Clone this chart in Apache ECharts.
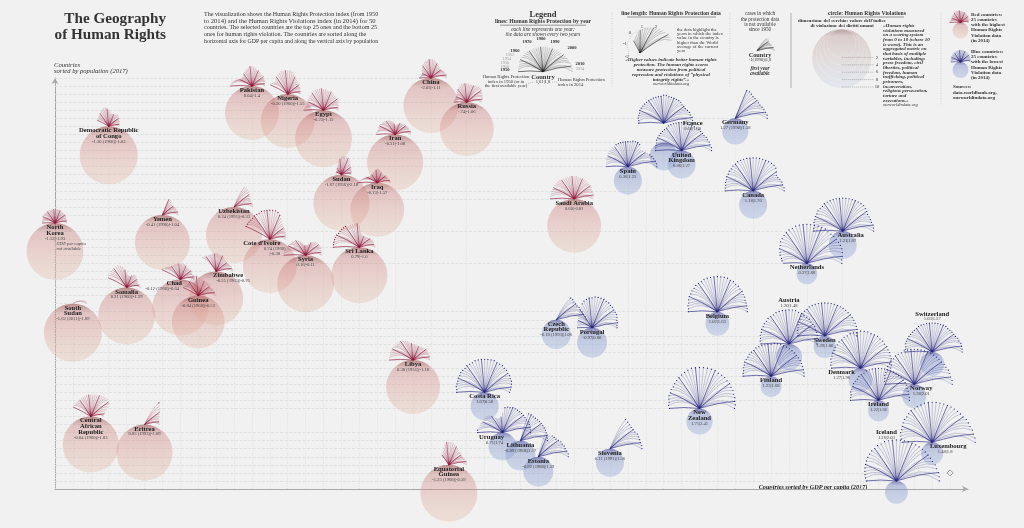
<!DOCTYPE html>
<html>
<head>
<meta charset="utf-8">
<script src="https://cdn.jsdelivr.net/npm/echarts@6/dist/echarts.min.js"></script>
<style>
html,body{margin:0;padding:0;background:#f0f1f0;}
#main{width:1024px;height:528px;}
</style>
</head>
<body>
<div id="main"></div>
<script>
// countries in GDP order, 0 = no GDP data
var countries = ['North\nKorea','South\nSudan','Central\nAfrican\nRepublic','Democratic Republic\nof Congo','Somalia','Eritrea','Yemen','Chad','Guinea','Zimbabwe','Uzbekistan','Pakistan','Cote d\'Ivoire','Nigeria','Syria','Egypt','Sudan','Sri Lanka','Iraq','Iran','Libya','China','Equatorial\nGuinea','Russia','Costa Rica','Uruguay','Lithuania','Estonia','Czech\nRepublic','Saudi Arabia','Portugal','Slovenia','Spain','France','United\nKingdom','New\nZealand','Belgium','Germany','Canada','Finland','Austria','Netherlands','Sweden','Australia','Denmark','Ireland','Iceland','Norway','Switzerland','Luxembourg'];
var gdpRank = [0,1,2,3,4,5,6,7,8,9,10,11,12,13,14,15,16,17,18,19,20,21,22,23,24,25,26,27,28,29,30,31,32,34,35,36,37,38,39,40,41,42,43,44,45,46,47,48,49,50];
var popRank = [33,23,9,45,25,8,34,26,24,27,35,50,31,49,29,47,39,30,38,44,16,51,3,48,12,7,6,4,21,36,20,5,40,43,42,10,22,46,37,14,18,28,19,32,15,11,1,13,17,2];
var violation = [9.7,10,9.5,10,9.7,9.5,9.2,9.5,8.6,8.9,9.5,8.9,8.9,8.9,9.7,9.7,9.5,9.5,8.9,9.5,8.9,9.2,9.7,8.9,1.9,1.9,2.4,2.4,2.2,8.9,2.4,1.9,1.9,1.9,1.9,1.4,0.8,1.4,1.9,0,1.4,0,0.3,1.9,0.8,0,0.5,0.8,0.8,0.3];
var scores = ['-1.53|-1.93','-1.62 (2011)|-1.89','-0.04 (1960)|-1.83','-1.30 (1960)|-1.03','0.31 (1960)|-1.29','0.85 (1993)|-1.09','-0.41 (1990)|-1.04','-0.12 (1960)|-0.64','-0.84 (1960)|-0.53','-0.55 (1965)|-0.76','0.24 (1991)|-0.33','0.04|-1.4','0.74 (1960)\n|-0.38','-0.20 (1960)|-1.55','0.16|-0.11','-0.25|-1.12','-1.67 (1956)|-2.18','0.79|-1.0','-0.13|-1.57','-0.31|-1.08','0.38 (1951)|-1.18','-2.03|-1.11','-1.25 (1968)|-0.59','-.74|-1.06','1.07|0.50','0.71|1.74','-0.89 (1988)|1.17','-0.92 (1988)|1.59','-0.18 (1993)|1.06','0.60|-0.81','-0.97|0.80','0.11 (1991)|1.56','0.36|1.25','0.60|1.30','0.86|1.27','1.71|2.41','1.02|1.63','1.27 (1990)|1.58','1.18|1.70','1.23|1.68','1.20|1.48','0.37|1.68','1.29|1.80','1.21|1.87','1.27|1.96','1.22|1.66','1.26|2.03','1.38|2.01','1.03|1.57','1.48|1.8'];

// protection index, one value every two years, last one is 2014
var northKorea = [-1.7,-1.7,-1.7,-1.7,-1.7,-1.6,-1.6,-1.6,-1.6,-1.6,-1.6,-1.6,-1.6,-1.6,-1.6,-1.6,-1.6,-1.6,-1.6,-1.6,-1.6,-1.7,-1.7,-1.7,-1.7,-1.7,-1.7,-1.7,-1.8,-1.8,-1.8,-1.8,-1.8];
var southSudan = [-1.6,-1.6];
var car = [-1.0,-1.0,-1.0,-1.0,-1.0,-1.0,-0.9,-0.9,-0.9,-0.8,-0.8,-0.8,-0.8,-0.8,-0.8,-0.7,-0.7,-0.6,-0.6,-0.6,-0.7,-0.7,-1.0,-1.3,-1.5,-1.6,-1.7,-1.7];
var drCongo = [-1.7,-1.7,-1.6,-1.6,-1.5,-1.4,-1.3,-1.2,-1.1,-1.1,-1.2,-1.3,-1.5,-1.7,-1.7,-1.7,-1.7,-1.6,-1.5,-1.6,-1.7,-1.7,-1.8,-1.8,-1.9,-1.9,-1.9,-2.0];
var somalia = [-0.9,-0.8,-0.8,-0.7,-0.7,-0.7,-0.6,-0.6,-0.7,-0.9,-1.2,-1.5,-1.7,-1.8,-1.8,-1.7,-1.6,-1.5,-1.5,-1.6,-1.7,-1.7,-1.7,-1.8,-1.8,-1.7,-1.7,-1.6];
var eritrea = [-0.4,-0.6,-0.8,-1.0,-1.2,-1.3,-1.4,-1.5,-1.5,-1.5,-1.5];
var yemen = [-1.3,-1.3,-1.4,-1.5,-1.6,-1.6,-1.6,-1.5,-1.5,-1.5,-1.4,-1.4,-1.4];
var chad = [-0.9,-1.0,-1.1,-1.2,-1.3,-1.4,-1.4,-1.4,-1.4,-1.4,-1.4,-1.4,-1.4,-1.4,-1.4,-1.5,-1.6,-1.6,-1.6,-1.6,-1.6,-1.6,-1.7,-1.7,-1.6,-1.6,-1.6,-1.6];
var guinea = [-1.3,-1.3,-1.4,-1.4,-1.4,-1.3,-1.2,-1.1,-1.0,-1.0,-1.0,-1.1,-1.2,-1.3,-1.3,-1.4,-1.4,-1.4,-1.4,-1.4,-1.5,-1.5,-1.5,-1.4,-1.4,-1.3,-1.3,-1.2];
var zimbabwe = [-1.0,-1.1,-1.2,-1.2,-1.2,-1.2,-1.2,-1.2,-1.2,-1.2,-1.3,-1.3,-1.3,-1.4,-1.5,-1.6,-1.6,-1.6,-1.6,-1.5,-1.5,-1.4,-1.4,-1.3,-1.3];
var uzbekistan = [-0.7,-0.7,-0.8,-0.9,-1.0,-1.1,-1.2,-1.2,-1.2,-1.2,-1.1,-1.1];
var pakistan = [-0.8,-0.9,-1.0,-1.2,-1.4,-1.6,-1.7,-1.7,-1.7,-1.6,-1.5,-1.4,-1.3,-1.2,-1.1,-1.0,-1.0,-1.1,-1.2,-1.3,-1.3,-1.4,-1.4,-1.5,-1.5,-1.5,-1.6,-1.6,-1.6,-1.6,-1.7,-1.7,-1.7];
var coteDivoire = [-0.3,-0.3,-0.3,-0.3,-0.3,-0.2,-0.2,-0.2,-0.1,-0.1,-0.1,-0.1,-0.1,-0.1,-0.2,-0.4,-0.6,-0.8,-1.0,-1.1,-1.2,-1.2,-1.3,-1.3,-1.3,-1.4,-1.4,-1.4];
var nigeria = [-1.0,-1.1,-1.2,-1.2,-1.1,-0.9,-0.8,-0.7,-0.6,-0.6,-0.6,-0.6,-0.6,-0.7,-0.9,-1.1,-1.2,-1.3,-1.4,-1.5,-1.5,-1.6,-1.6,-1.6,-1.7,-1.7,-1.7,-1.7];
var syria = [-0.8,-0.8,-0.8,-0.9,-0.9,-1.0,-1.0,-1.1,-1.1,-1.2,-1.2,-1.3,-1.5,-1.7,-1.9,-2.0,-2.0,-2.0,-1.9,-1.8,-1.6,-1.5,-1.4,-1.3,-1.3,-1.3,-1.3,-1.3,-1.3,-1.4,-1.4,-1.4,-1.4];
var egypt = [-1.0,-1.1,-1.2,-1.2,-1.2,-1.2,-1.1,-1.1,-1.0,-1.0,-0.9,-0.9,-0.8,-0.8,-0.8,-0.8,-0.9,-0.9,-1.0,-1.0,-1.0,-1.1,-1.1,-1.2,-1.2,-1.2,-1.3,-1.3,-1.4,-1.4,-1.5,-1.5,-1.5];
var sudan = [-2.4,-2.4,-2.4,-2.4,-2.4,-2.3,-2.3,-2.2,-2.1,-2.0,-1.8,-1.6,-1.4,-1.2,-1.1,-1.1,-1.1,-1.2,-1.3,-1.4,-1.6,-1.7,-1.8,-1.8,-1.9,-1.9,-1.9,-2.0,-2.0,-2.0];
var sriLanka = [-0.4,-0.4,-0.4,-0.4,-0.4,-0.4,-0.5,-0.5,-0.5,-0.5,-0.5,-0.6,-0.6,-0.6,-0.6,-0.6,-0.8,-1.3,-1.7,-1.8,-1.8,-1.8,-1.8,-1.7,-1.7,-1.6,-1.6,-1.5,-1.5,-1.5,-1.5,-1.4,-1.4];
var iraq = [-1.0,-1.2,-1.4,-1.6,-1.7,-1.8,-1.9,-2.0,-2.0,-2.0,-2.0,-2.0,-1.9,-1.9,-1.8,-1.7,-1.6,-1.6,-1.7,-1.8,-1.9,-2.0,-2.0,-2.0,-2.0,-1.9,-1.9,-1.9,-1.8,-1.8,-1.7,-1.7,-1.6];
var iran = [-1.1,-1.1,-1.2,-1.2,-1.2,-1.2,-1.2,-1.3,-1.3,-1.3,-1.4,-1.4,-1.5,-1.6,-1.7,-1.9,-2.1,-2.1,-2.0,-1.9,-1.8,-1.7,-1.7,-1.7,-1.6,-1.6,-1.6,-1.5,-1.5,-1.5,-1.4,-1.4,-1.4];
var libya = [-0.6,-0.6,-0.6,-0.6,-0.6,-0.6,-0.6,-0.7,-0.7,-0.7,-0.7,-0.8,-0.9,-1.0,-1.2,-1.3,-1.4,-1.4,-1.5,-1.5,-1.5,-1.5,-1.4,-1.4,-1.4,-1.3,-1.3,-1.3,-1.3,-1.3,-1.3,-1.3,-1.3];
var china = [-1.8,-1.9,-2.0,-2.0,-2.0,-2.0,-1.9,-1.8,-1.7,-1.6,-1.5,-1.4,-1.3,-1.2,-1.2,-1.1,-1.1,-1.1,-1.2,-1.3,-1.4,-1.5,-1.6,-1.6,-1.7,-1.7,-1.6,-1.6,-1.5,-1.5,-1.4,-1.4,-1.4];
var eqGuinea = [-1.8,-1.8,-1.7,-1.5,-1.2,-0.9,-0.7,-0.7,-0.7,-0.8,-0.9,-1.0,-1.1,-1.2,-1.3,-1.3,-1.4,-1.4,-1.4,-1.3,-1.3,-1.2,-1.2,-1.2];
var russia = [-1.7,-1.7,-1.8,-1.8,-1.8,-1.8,-1.7,-1.7,-1.6,-1.5,-1.4,-1.3,-1.2,-1.1,-1.1,-1.1,-1.1,-1.2,-1.2,-1.2,-1.2,-1.1,-1.1,-1.0,-1.0,-1.1,-1.2,-1.2,-1.3,-1.3,-1.4,-1.5,-1.5];
var costaRica = [-0.2,-0.2,-0.1,-0.1,-0.1,0,0,0.1,0.1,0.1,0.2,0.2,0.2,0.3,0.3,0.3,0.3,0.3,0.3,0.3,0.2,0.2,0.2,0.1,0.1,0,0,-0.1,-0.1,-0.2,-0.3,-0.4,-0.5];
var uruguay = [-0.5,-0.5,-0.6,-0.6,-0.6,-0.7,-0.7,-0.7,-0.7,-0.8,-1.0,-1.2,-1.4,-1.5,-1.5,-1.4,-1.0,-0.5,-0.4,-0.4,-0.3,-0.3,-0.3,-0.3,-0.3,-0.3,-0.3,-0.3,-0.2,-0.2,-0.2,-0.2,-0.2];
var lithuania = [-0.2,-0.2,-0.3,-0.3,-0.3,-0.3,-0.3,-0.3,-0.3,-0.3,-0.3,-0.3,-0.3,-0.3];
var estonia = [-0.6,-0.6,-0.6,-0.5,-0.5,-0.5,-0.4,-0.3,-0.3,-0.2,-0.2,-0.1,0,0];
var czech = [-0.4,-0.4,-0.5,-0.5,-0.5,-0.4,-0.4,-0.3,-0.2,-0.1,0];
var saudi = [-0.6,-0.6,-0.6,-0.6,-0.6,-0.6,-0.6,-0.6,-0.6,-0.6,-0.7,-0.7,-0.7,-0.7,-0.7,-0.7,-0.7,-0.7,-0.8,-0.8,-0.8,-0.8,-0.8,-0.9,-0.9,-0.9,-0.9,-1.0,-1.0,-1.0,-1.0,-1.1,-1.1];
var portugal = [-1.5,-1.5,-1.5,-1.4,-1.4,-1.4,-1.3,-1.2,-1.1,-1.0,-0.8,-0.6,-0.4,-0.2,-0.1,0,0,0.1,0.1,0.1,0.1,0,0,-0.1,-0.1,-0.2,-0.2,-0.2,-0.3,-0.4,-0.4,-0.5,-0.5];
var slovenia = [0.3,0.2,0.1,0,0,0,0.1,0.1,0.1,0.1,0.2,0.2];
var spain = [-0.8,-0.8,-0.8,-0.7,-0.7,-0.7,-0.6,-0.6,-0.6,-0.6,-0.6,-0.5,-0.5,-0.5,-0.5,-0.5,-0.5,-0.5,-0.4,-0.4,-0.4,-0.5,-0.7,-0.9,-0.8,-0.7,-0.6,-0.5,-0.4,-0.3,-0.2,-0.1,-0.1];
var france = [-0.5,-0.5,-0.4,-0.4,-0.4,-0.3,-0.3,-0.3,-0.3,-0.3,-0.3,-0.3,-0.3,-0.3,-0.3,-0.3,-0.2,-0.2,-0.3,-0.3,-0.3,-0.3,-0.3,-0.3,-0.4,-0.4,-0.4,-0.3,-0.2,-0.2,-0.1,-0.1,-0.1];
var uk = [-0.4,-0.4,-0.4,-0.4,-0.3,-0.3,-0.3,-0.3,-0.3,-0.3,-0.3,-0.2,-0.2,-0.2,-0.2,-0.2,-0.2,-0.2,-0.2,-0.3,-0.3,-0.3,-0.3,-0.3,-0.3,-0.3,-0.3,-0.2,-0.2,-0.1,-0.1,0,0];
var newZealand = [0,0.1,0.1,0.2,0.3,0.3,0.4,0.4,0.5,0.6,0.7,0.8,0.9,1.0,1.1,1.1,1.1,1.1,1.1,1.1,1.1,1.0,1.0,1.0,0.9,0.9,0.8,0.8,0.7,0.7,0.6,0.6,0.5];
var belgium = [-0.1,-0.1,0,0,0.1,0.2,0.2,0.3,0.3,0.4,0.4,0.4,0.5,0.5,0.5,0.5,0.5,0.5,0.5,0.5,0.4,0.4,0.3,0.3,0.2,0.2,0.1,0.1,0,0,0,0,0];
var germany = [0,0,-0.1,-0.2,-0.2,-0.2,-0.2,-0.2,-0.1,0,0.1,0.2,0.2];
var canada = [-0.2,-0.2,-0.2,-0.1,-0.1,0,0,0.1,0.1,0.2,0.2,0.3,0.3,0.3,0.3,0.3,0.3,0.3,0.3,0.3,0.3,0.3,0.3,0.3,0.2,0,-0.2,-0.2,-0.1,0,0,0.1,0.1];
var finland = [-0.2,-0.2,-0.2,-0.1,-0.1,0,0,0,0.1,0.1,0.1,0.2,0.2,0.2,0.2,0.2,0.2,0.3,0.3,0.3,0.3,0.3,0.3,0.3,0.3,0.3,0.3,0.3,0.3,0.3,0.3,0.3,0.3];
var austria = [-0.2,-0.1,-0.1,0,0,0.1,0.1,0.2,0.2,0.3,0.3,0.3,0.4,0.4,0.4,0.4,0.4,0.4,0.4,0.3,0.3,0.2,0.2,0.2,0.1,0.1,0.1,0,0,0,-0.1,-0.1,-0.2];
var netherlands = [-0.6,-0.5,-0.4,-0.2,-0.1,0.1,0.2,0.4,0.5,0.6,0.7,0.8,0.8,0.9,0.9,0.9,0.9,0.9,0.9,0.9,0.9,0.9,0.8,0.8,0.8,0.8,0.8,0.8,0.8,0.7,0.6,0.5,0.5];
var sweden = [-0.3,-0.3,-0.2,-0.2,-0.1,0,0,0.1,0.1,0.2,0.2,0.3,0.3,0.3,0.3,0.3,0.3,0.3,0.3,0.3,0.3,0.3,0.3,0.3,0.3,0.3,0.3,0.3,0.3,0.3,0.3,0.2,0.2];
var australia = [-0.1,-0.1,-0.1,0,0,0.1,0.1,0.2,0.2,0.2,0.3,0.3,0.3,0.3,0.3,0.3,0.3,0.3,0.3,0.3,0.3,0.3,0.3,0.3,0.2,0.1,0,0,0,0,0.1,0.1,0.1];
var denmark = [-0.1,0,0,0.1,0.1,0.2,0.2,0.3,0.3,0.4,0.4,0.5,0.5,0.6,0.6,0.6,0.7,0.7,0.7,0.6,0.6,0.6,0.5,0.5,0.4,0.4,0.3,0.3,0.2,0.2,0.1,0.1,0];
var ireland = [-0.2,-0.2,-0.2,-0.1,-0.1,-0.1,0,0,0,0.1,0.1,0.1,0.2,0.2,0.2,0.2,0.2,0.2,0.2,0.2,0.2,0.2,0.2,0.2,0.2,0.2,0.2,0.2,0.1,0.1,0.1,0.1,0.1];
var iceland = [0,0.1,0.2,0.3,0.4,0.5,0.6,0.7,0.8,0.9,0.9,1.0,1.0,1.1,1.1,1.1,1.1,1.1,1.1,1.1,1.1,1.1,1.1,1.1,1.1,1.1,1.1,1.1,1.2,1.2,1.3,1.3,1.3];
var norway = [-0.1,0,0,0.1,0.1,0.1,0.2,0.2,0.3,0.3,0.4,0.4,0.4,0.5,0.5,0.5,0.5,0.5,0.5,0.5,0.5,0.5,0.5,0.5,0.5,0.5,0.6,0.6,0.7,0.7,0.7,0.8,0.8];
var switzerland = [-0.3,-0.3,-0.3,-0.2,-0.2,-0.2,-0.2,-0.2,-0.2,-0.2,-0.2,-0.1,-0.1,-0.1,-0.1,-0.1,-0.1,-0.1,-0.1,-0.1,-0.1,-0.1,-0.2,-0.2,-0.2,-0.2,-0.2,-0.1,-0.1,0,0,0,0];
var luxembourg = [0,0.1,0.2,0.3,0.3,0.4,0.5,0.6,0.6,0.7,0.8,0.8,0.9,0.9,1.0,1.0,1.0,1.0,1.0,1.0,1.0,1.0,1.0,1.0,1.0,1.0,1.1,1.1,1.1,1.2,1.2,1.3,1.3];
var protection = [northKorea,southSudan,car,drCongo,somalia,eritrea,yemen,chad,guinea,zimbabwe,uzbekistan,pakistan,coteDivoire,nigeria,syria,egypt,sudan,sriLanka,iraq,iran,libya,china,eqGuinea,russia,costaRica,uruguay,lithuania,estonia,czech,saudi,portugal,slovenia,spain,france,uk,newZealand,belgium,germany,canada,finland,austria,netherlands,sweden,australia,denmark,ireland,iceland,norway,switzerland,luxembourg];

// legend fans
var legendYears = [-0.5,-0.5,-0.5,-0.5,-0.4,-0.4,-0.4,-0.4,-0.4,-0.4,-0.5,-0.5,-0.5,-0.5,-0.5,-0.5,-0.5,-0.5,-0.5,-0.5,-0.5,-0.5,-0.4,-0.4,-0.4,-0.3,-0.3,-0.2,-0.2,-0.1,-0.1,0,0];
var legendLength = [-1.6,-1.5,-1.3,-1.1,-0.9,-0.7,-0.6,-0.4,-0.3,-0.2,-0.1,0,0.1,0.2,0.3,0.4,0.4,0.4];
var legendShort = [-1.4,-1.4,-1.5,-1.5,-1.5,-1.4,-1.4,-1.3,-1.3,-1.2];
var legendRings = [2,4,6,8,10];

var worldAverage = -0.6;
var fanStart = {France:45.4, Luxembourg:5.8};
var circleTop = {Luxembourg:5.8};
var drawnGdp = {Luxembourg:49};
// name: [dx, dy, dx of the score line]
var labelMoves = {
    'France':[29,-23.5,29], 'Uruguay':[-11,0,-8], 'Austria':[0,-47.5,0], 'Denmark':[-19,0,-19], 'Norway':[7,0,7],
    'Switzerland':[0,-42.5,0], 'Iceland':[-10,-52.5,-10], 'Luxembourg':[16,0,13], 'Cote d\'Ivoire':[-8,0,5],
    'Zimbabwe':[12,0,17], 'Chad':[-6,0,-18], 'Australia':[8,0,5]
};

var RED = '#8f1237', BLUE = '#23237f', SERIF = '"Liberation Serif",serif', BG = '#f0f1f0';

function radiusOf(v) {
    return 10.5 + 1.85 * v;
}

function fanPaths(x, y, values, color, scale, endDeg, dots) {
    var out = [];
    var n = values.length;
    values.forEach(function (v, j) {
        var k = n - 1 - j;
        var a = (endDeg + k * 180 / 32) * Math.PI / 180;
        var r = (v + 3) * 10 * scale;
        var dx = Math.cos(a) * r, dy = Math.sin(a) * r;
        var decade = k >= 2 && (k - 2) % 5 === 0;
        var bend = (decade ? 0.06 : 0.32) * Math.abs(Math.cos(a)) * r;
        out.push({
            type: 'bezierCurve',
            shape: {x1: x, y1: y, x2: x + dx, y2: y - dy, cpx1: x + dx * 0.55, cpy1: y - dy * 0.55 - bend},
            style: {fill: 'none', stroke: color, lineWidth: decade ? 0.7 : 0.35, opacity: decade ? 0.9 : 0.65}
        });
        if (dots && v > worldAverage) {
            out.push({type: 'circle', shape: {cx: x + dx, cy: y - dy, r: 0.6}, style: {fill: color}});
        }
    });
    return out;
}

function circleFill(red) {
    var stops = red
        ? [[0, 'rgba(130,40,40,0.5)'], [0.16, 'rgba(200,120,120,0.38)'], [0.5, 'rgba(217,148,140,0.35)'], [1, 'rgba(226,180,157,0.3)']]
        : [[0, 'rgba(83,83,161,0.7)'], [0.2, 'rgba(130,145,200,0.5)'], [0.5, 'rgba(144,160,209,0.45)'], [1, 'rgba(152,170,220,0.4)']];
    return new echarts.graphic.LinearGradient(0, 0, 0, 1, stops.map(function (s) {
        return {offset: s[0], color: s[1]};
    }));
}

var rows = countries.map(function (name, i) {
    return [gdpRank[i], popRank[i], i];
});

function plainName(i) {
    return countries[i].replace(/\n/g, ' ');
}

function renderCircle(params, api) {
    var i = api.value(2), key = plainName(i);
    var top = api.coord([key in drawnGdp ? drawnGdp[key] : api.value(0), key in circleTop ? circleTop[key] : api.value(1)]);
    var r = radiusOf(violation[i]);
    return {
        type: 'circle',
        shape: {cx: top[0], cy: top[1] + r, r: r},
        style: {fill: circleFill(violation[i] > 5)}
    };
}

function renderFan(params, api) {
    var i = api.value(2), key = plainName(i);
    var base = api.coord([key in drawnGdp ? drawnGdp[key] : api.value(0), key in fanStart ? fanStart[key] : api.value(1)]);
    return {
        type: 'group',
        children: fanPaths(base[0], base[1], protection[i], violation[i] > 5 ? RED : BLUE, 1, 0, true)
    };
}

function renderLabel(params, api) {
    var i = api.value(2), key = plainName(i);
    var top = api.coord([key in drawnGdp ? drawnGdp[key] : api.value(0), key in circleTop ? circleTop[key] : api.value(1)]);
    var move = labelMoves[key] || [0, 0, 0];
    var lines = countries[i].split('\n').length;
    var y = top[1] + 1.5 + move[1];
    var kids = [
        {type: 'text', style: {x: top[0] + move[0], y: y, text: countries[i], font: 'bold 6.6px ' + SERIF, fill: '#222', align: 'center', verticalAlign: 'top', lineHeight: 5.6}},
        {type: 'text', style: {x: top[0] + move[2], y: y + lines * 5.6 + 0.3, text: scores[i], font: '4.6px ' + SERIF, fill: '#444', align: 'center', verticalAlign: 'top', lineHeight: 4.6}}
    ];
    if (key === 'North Korea') {
        kids.push({type: 'text', style: {x: top[0] + 1.5, y: top[1] + 18, text: 'GDP per capita\nnot available', font: 'italic 4.6px ' + SERIF, fill: '#444', align: 'left', verticalAlign: 'top', lineHeight: 5}});
    }
    return {type: 'group', children: kids};
}

function txt(x, y, text, font, opts) {
    var style = {x: x, y: y, text: text, font: font + ' ' + SERIF, fill: '#333', align: 'left', verticalAlign: 'middle'};
    for (var k in opts) {
        style[k] = opts[k];
    }
    return {type: 'text', silent: true, style: style};
}

function seg(x1, y1, x2, y2, color, dash) {
    return {type: 'line', silent: true, shape: {x1: x1, y1: y1, x2: x2, y2: y2}, style: {stroke: color, lineWidth: 0.6, lineDash: dash}};
}

function buildPage() {
    var g = [];
    var C = {align: 'center'}, R = {align: 'right'};
    g.push(txt(166, 19, 'The Geography', 'bold 15.2px', R));
    g.push(txt(166, 35, 'of Human Rights', 'bold 15.2px', R));
    var introSizes = [6.05, 6.6, 6.1, 6.1, 5.75];
    ['The visualization shows the Human Rights Protection index (from 1950',
        'to 2014) and the Human Rights Violations index (in 2014) for 50',
        'countries. The selected countries are the top 25 ones and the bottom 25',
        'ones for human rights violation. The countries are sorted along the',
        'horizontal axis for GDP per capita and along the vertical axis by population'
    ].forEach(function (s, i) {
        g.push(txt(204, 14.3 + i * 6.7, s, introSizes[i] + 'px'));
    });
    g.push(txt(54, 65, 'Countries', 'italic 6.6px'));
    g.push(txt(54, 71.7, 'sorted by population (2017)', 'italic 6.6px'));
    g.push(txt(813, 487, 'Countries sorted by GDP per capita (2017)', 'italic bold 6.2px', {align: 'center', backgroundColor: BG, padding: [1, 2], fill: '#222'}));

    // legend: lines
    g.push(txt(543, 15, 'Legend', 'bold 8.5px', C));
    g.push(txt(543, 22, 'lines: Human Rights Protection by year', 'bold 5.7px', C));
    g.push(seg(500, 25.2, 586, 25.2, '#555'));
    g.push(txt(543, 29.5, 'each line represents one year:', 'italic 5.3px', C));
    g.push(txt(543, 34.5, 'the data are shown every two years', 'italic 5.3px', C));
    [[505, 70, '1950'], [515, 51, '1960'], [527, 42, '1970'], [541, 39, '1980'], [555, 42, '1990'], [572, 48, '2000'], [580, 64, '2010']].forEach(function (t) {
        g.push(txt(t[0], t[1], t[2], 'bold 4.6px', C));
    });
    [[510, 55, '1952'], [507, 59, '1954'], [505, 63, '1956'], [505, 66.5, '1958'], [580, 68.5, '2014']].forEach(function (t) {
        g.push(txt(t[0], t[1], t[2], '4.2px', {align: 'center', fill: '#999'}));
    });
    g.push({type: 'group', silent: true, children: fanPaths(543, 71.7, legendYears, '#222', 1, 0, false)});
    g.push(txt(543, 77, 'Country', 'bold 6.5px', C));
    g.push(txt(543, 82, '1,61|1,8', '4.6px', C));
    ['Human Rights Protection', 'index in 1950 (or in', 'the first available year)'].forEach(function (s, i) {
        g.push(txt(506, 77 + i * 4.6, s, '4.6px', C));
    });
    ['Human Rights Protection', 'index in 2014'].forEach(function (s, i) {
        g.push(txt(558, 79.5 + i * 4.8, s, '4.6px'));
    });
    g.push(seg(526, 84, 534, 82, '#999', [1, 1]));
    g.push(seg(552, 82, 557, 82, '#999', [1, 1]));
    g.push(seg(612, 13, 612, 88, '#bbb', [1, 1.5]));

    // legend: line length
    g.push(txt(671, 14, 'line length: Human Rights Protection data', 'bold 5.5px', C));
    g.push(seg(627, 17, 716, 17, '#555'));
    g.push({type: 'group', silent: true, children: fanPaths(640, 53, legendLength, '#222', 1, 22, false)});
    [[627, 57, '-2'], [625, 44, '-1'], [630, 33, '0'], [642, 27, '1'], [656, 27, '2']].forEach(function (t) {
        g.push(txt(t[0], t[1], t[2], '4.6px', {align: 'center'}));
    });
    g.push({type: 'polyline', silent: true, shape: {points: [[629, 56], [627, 44], [632, 34], [643, 29], [656, 29]]}, style: {fill: 'none', stroke: '#aaa', lineWidth: 0.5, lineDash: [1, 1]}});
    ['the dots highlight the', 'years in which the index', 'value in the country is', 'higher than the World', 'average of the current', 'year'].forEach(function (s, i) {
        g.push(txt(677, 30 + i * 4.1, s, '4.7px'));
    });
    ['«Higher values indicate better human rights', 'protection. The human rights scores', 'measure protection from political', 'repression and violations of “physical', 'integrity rights”.»'].forEach(function (s, i) {
        g.push(txt(671, 60 + i * 4.9, s, 'italic bold 5px', C));
    });
    g.push(txt(671, 83.5, 'ourworldindata.org', 'italic 4.6px', C));
    g.push(seg(730, 13, 730, 88, '#bbb', [1, 1.5]));

    // legend: missing years
    ['cases in which', 'the protection data', 'is not available', 'since 1950'].forEach(function (s, i) {
        g.push(txt(760, 14 + i * 5.2, s, '5.2px', C));
    });
    g.push({type: 'group', silent: true, children: fanPaths(757, 50.7, legendShort, '#222', 1, 0, false)});
    g.push(txt(760, 55.5, 'Country', 'bold 6.3px', C));
    g.push(txt(760, 60, '-1(1990)|1,8', '4.6px', C));
    g.push(txt(760, 69, 'first year', 'italic bold 5.2px', C));
    g.push(txt(760, 74, 'available', 'italic bold 5.2px', C));
    g.push(seg(791, 13, 791, 88, '#888'));

    // legend: circle
    g.push(txt(867, 14, 'circle: Human Rights Violations', 'bold 5.7px', C));
    g.push(seg(830, 17, 904, 17, '#555'));
    g.push(txt(842, 21, 'dimensione del cerchio: valore dell\'indice', 'bold 5px', C));
    g.push(txt(842, 26, 'di violazione dei diritti umani', 'bold 5px', C));
    g.push({type: 'circle', silent: true, shape: {cx: 841.7, cy: 58.5, r: 29.5}, style: {
        fill: new echarts.graphic.LinearGradient(0, 0, 0, 1, [
            {offset: 0, color: '#b59d9d'}, {offset: 0.12, color: '#dacdcc'}, {offset: 0.5, color: '#e2dddc'}, {offset: 1, color: '#e3e7ef'}
        ])
    }});
    legendRings.forEach(function (v) {
        var r = radiusOf(v);
        var bottom = 29 + 2 * r;
        if (v < 10) {
            g.push({type: 'circle', silent: true, shape: {cx: 841.7, cy: 29 + r, r: r}, style: {fill: 'none', stroke: '#fff', lineWidth: 0.5, lineDash: [1, 1], opacity: 0.8}});
        }
        g.push(seg(841.7, bottom, 874, bottom, '#888', [1, 1]));
        g.push(txt(877, bottom, String(v), '4.6px', C));
    });
    ['«Human rights', 'violations measured', 'on a scoring system', 'from 0 to 10 (where 10', 'is worst). This is an', 'aggregated metric on', 'that basis of multiple', 'variables, including:', 'press freedom, civil', 'liberties, political', 'freedom, human', 'trafficking, political', 'prisoners,', 'incarceration,', 'religious persecution,', 'torture and', 'executions.»'].forEach(function (s, i) {
        g.push(txt(883, 25.7 + i * 4.67, s, 'italic bold 5px'));
    });
    g.push(txt(883, 105.3, 'ourworldindata.org', 'italic 4.4px'));
    g.push(seg(941, 13, 941, 106, '#bbb', [1, 1.5]));

    // legend: colours
    g.push({type: 'circle', silent: true, shape: {cx: 960.5, cy: 30.5, r: 8}, style: {fill: circleFill(true)}});
    g.push({type: 'group', silent: true, children: fanPaths(960.5, 22.5, egypt, RED, 0.55, 0, false)});
    ['Red countries:', '25 countries', 'with the highest', 'Human Rights', 'Violation data', '(in 2014)'].forEach(function (s, i) {
        g.push(txt(971, 14.3 + i * 5.25, s, 'bold 5px'));
    });
    g.push({type: 'circle', silent: true, shape: {cx: 960.5, cy: 70, r: 8}, style: {fill: circleFill(false)}});
    g.push({type: 'group', silent: true, children: fanPaths(960.5, 62, denmark, BLUE, 0.33, 0, false)});
    ['Blue countries:', '25 countries', 'with the lowest', 'Human Rights', 'Violation data', '(in 2014)'].forEach(function (s, i) {
        g.push(txt(971, 51.7 + i * 5.2, s, 'bold 5px'));
    });
    ['Sources:', 'data.worldbank.org,', 'ourworldindata.org'].forEach(function (s, i) {
        g.push(txt(953, 87 + i * 5.3, s, 'bold 5px'));
    });
    return g;
}

// row 41 / column 33 belongs to no drawn country
var guideGdp = gdpRank.concat([33]);
var guidePop = popRank.concat([41]);

var chart = echarts.init(document.getElementById('main'), null, {renderer: 'canvas'});
chart.setOption({
    animation: false,
    backgroundColor: BG,
    tooltip: {show: false},
    grid: {left: 55, right: 56, top: 78, bottom: 39},
    xAxis: {
        type: 'value', min: 0, max: 51, interval: 51,
        axisLabel: {show: false}, axisTick: {show: false}, splitLine: {show: false},
        axisLine: {show: true, onZero: false, symbol: ['none', 'arrow'], symbolSize: [5, 6], lineStyle: {color: '#a8a8a8', width: 1}}
    },
    yAxis: {
        type: 'value', min: 0, max: 51, interval: 51,
        axisLabel: {show: false}, axisTick: {show: false}, splitLine: {show: false},
        axisLine: {show: true, onZero: false, symbol: ['none', 'arrow'], symbolSize: [5, 6], lineStyle: {color: '#a8a8a8', width: 1}}
    },
    graphic: {elements: buildPage()},
    series: [
        {
            type: 'lines', coordinateSystem: 'cartesian2d', silent: true, z: 1,
            lineStyle: {color: '#dcdedd', width: 0.8, type: [3, 1.5], opacity: 1},
            data: guidePop.map(function (p, i) {
                return {coords: [[0, p], [guideGdp[i], p]]};
            })
        },
        {
            type: 'lines', coordinateSystem: 'cartesian2d', silent: true, z: 1,
            lineStyle: {color: '#dcdedd', width: 0.8, type: [1, 1.5], opacity: 1},
            data: guideGdp.map(function (x, i) {
                return {coords: [[x, 0], [x, guidePop[i]]]};
            })
        },
        {type: 'custom', coordinateSystem: 'cartesian2d', silent: true, z: 3, renderItem: renderCircle, encode: {x: 0, y: 1}, data: rows},
        {type: 'custom', coordinateSystem: 'cartesian2d', silent: true, z: 4, renderItem: renderFan, encode: {x: 0, y: 1}, data: rows},
        {type: 'custom', coordinateSystem: 'cartesian2d', silent: true, z: 5, renderItem: renderLabel, encode: {x: 0, y: 1}, data: rows},
        {
            type: 'scatter', silent: true, z: 5, symbol: 'diamond', symbolSize: 6,
            itemStyle: {color: 'transparent', borderColor: '#555', borderWidth: 0.7},
            data: [[gdpRank[49], popRank[49]]]
        }
    ]
});
</script>
</body>
</html>
